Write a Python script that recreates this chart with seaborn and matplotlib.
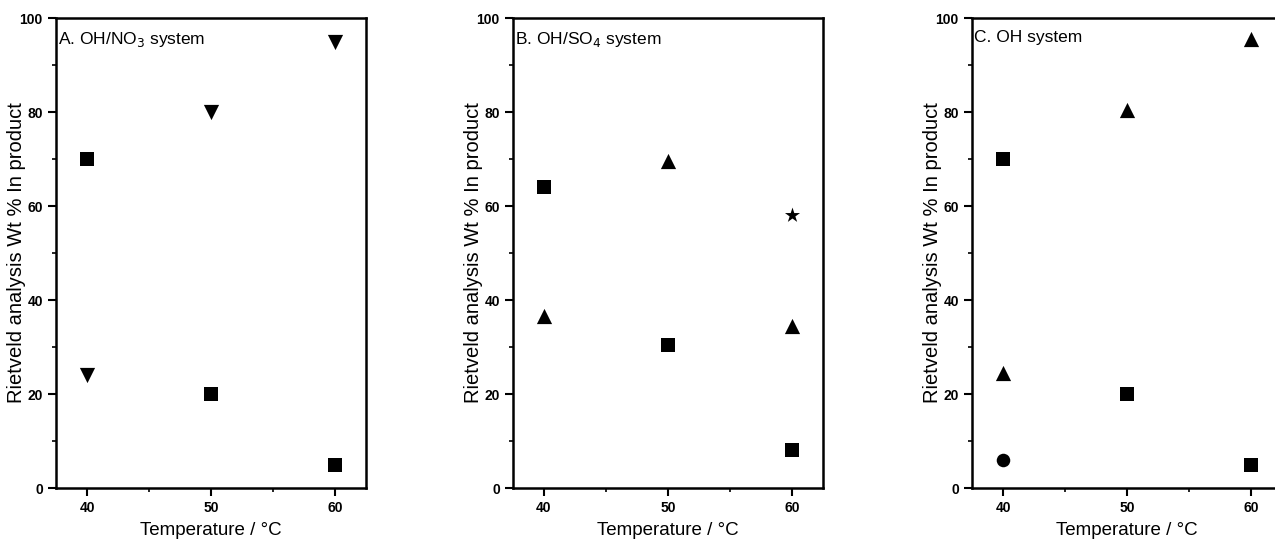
import numpy as np
import pandas as pd
import matplotlib
matplotlib.use("Agg")
import matplotlib.pyplot as plt
from matplotlib.ticker import MultipleLocator
import seaborn as sns

# Panel A: OH/NO3 system
a_temp = [40, 50, 60, 40, 50, 60]
a_wt = [70, 20, 5, 24, 80, 95]
a_shape = ["square", "square", "square", "down", "down", "down"]

# Panel B: OH/SO4 system
b_temp = [40, 50, 60, 40, 50, 60, 60]
b_wt = [64, 30.5, 8, 36.5, 69.5, 34.5, 58]
b_shape = ["square", "square", "square", "up", "up", "up", "star"]

# Panel C: OH system
c_temp = [40, 50, 60, 40, 50, 60, 40]
c_wt = [70, 20, 5, 24.5, 80.5, 95.5, 6]
c_shape = ["square", "square", "square", "up", "up", "up", "circle"]

titles = ["A. OH/NO$_3$ system", "B. OH/SO$_4$ system", "C. OH system"]
marker_map = {"square": "s", "down": "v", "up": "^", "star": "*", "circle": "o"}
size_map = {"square": 95, "down": 120, "up": 120, "star": 130, "circle": 95}

sns.set_style("ticks")
plt.rcParams["font.family"] = ["Liberation Sans", "DejaVu Sans"]
plt.rcParams["text.color"] = "black"
plt.rcParams["axes.labelcolor"] = "black"
plt.rcParams["xtick.color"] = "black"
plt.rcParams["ytick.color"] = "black"
plt.rcParams["axes.edgecolor"] = "black"

fig = plt.figure(figsize=(12.75, 5.47), dpi=100)
W, H = 1275, 547
lefts = [56, 513, 972]
panels = [(a_temp, a_wt, a_shape), (b_temp, b_wt, b_shape), (c_temp, c_wt, c_shape)]

for i, (temp, wt, shape) in enumerate(panels):
    ax = fig.add_axes([lefts[i] / W, (H - 488) / H, 310 / W, 470 / H])
    df = pd.DataFrame({"temp": temp, "wt": wt, "shape": shape})
    for s, grp in df.groupby("shape"):
        sns.scatterplot(data=grp, x="temp", y="wt", marker=marker_map[s],
                        s=size_map[s], color="black", edgecolor="black",
                        linewidth=0, legend=False, ax=ax)
    ax.set_xlim(37.5, 62.5)
    ax.set_ylim(0, 100)
    ax.set_xticks([40, 50, 60])
    ax.set_yticks([0, 20, 40, 60, 80, 100])
    ax.xaxis.set_minor_locator(MultipleLocator(5))
    ax.yaxis.set_minor_locator(MultipleLocator(10))
    ax.tick_params(which="major", length=6, width=1.5, labelsize=10, direction="out")
    ax.tick_params(which="minor", length=3, width=1.2, direction="out")
    for lab in ax.get_xticklabels() + ax.get_yticklabels():
        lab.set_fontweight("bold")
    for sp in ax.spines.values():
        sp.set_linewidth(1.8)
        sp.set_visible(True)
    ax.set_xlabel("Temperature / °C", fontsize=13.5, labelpad=5)
    ax.set_ylabel("Rietveld analysis Wt % In product", fontsize=14.5)
    ax.yaxis.set_label_coords(-0.098, 0.5)
    ax.text(0.005, 0.975, titles[i], transform=ax.transAxes, ha="left", va="top",
            fontsize=12.5)

fig.savefig("out.png", dpi=100)
